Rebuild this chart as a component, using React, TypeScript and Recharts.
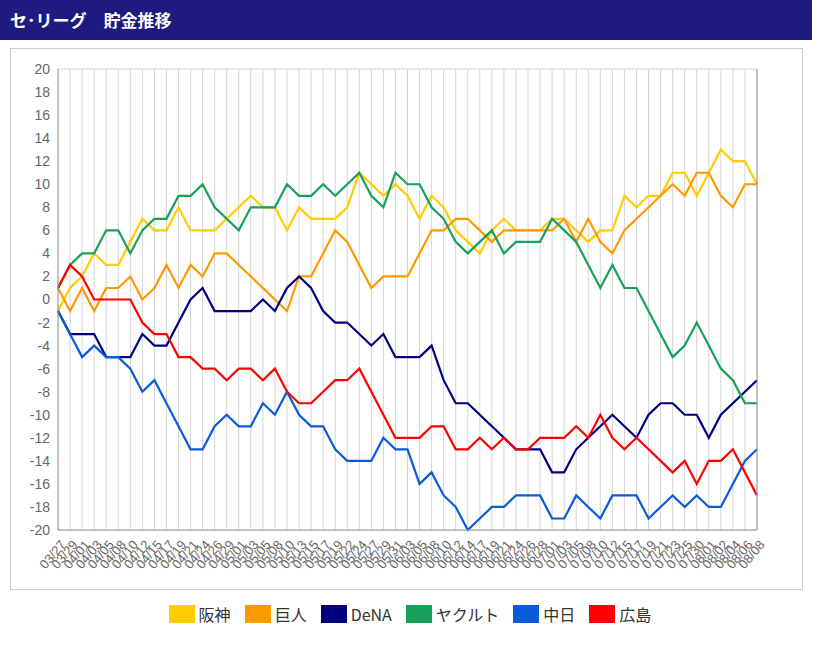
import React from "react";
import { LineChart, Line, XAxis, YAxis, CartesianGrid } from "recharts";

const dates = ["03/27","03/29","04/01","04/03","04/05","04/08","04/10","04/12","04/15","04/17","04/19","04/21","04/24","04/26","04/29","05/01","05/03","05/05","05/08","05/10","05/13","05/15","05/17","05/19","05/22","05/24","05/27","05/29","05/31","06/03","06/05","06/08","06/10","06/12","06/14","06/17","06/19","06/21","06/24","06/26","06/28","07/01","07/03","07/05","07/08","07/10","07/12","07/15","07/17","07/19","07/21","07/23","07/25","07/30","08/01","08/02","08/04","08/06","08/08"];
const hanshin = [-1,1,2,4,3,3,5,7,6,6,8,6,6,6,7,8,9,8,8,6,8,7,7,7,8,11,10,9,10,9,7,9,8,6,5,4,6,7,6,6,6,7,7,6,5,6,6,9,8,9,9,11,11,9,11,13,12,12,10];
const kyojin = [1,-1,1,-1,1,1,2,0,1,3,1,3,2,4,4,3,2,1,0,-1,2,2,4,6,5,3,1,2,2,2,4,6,6,7,7,6,5,6,6,6,6,6,7,5,7,5,4,6,7,8,9,10,9,11,11,9,8,10,10];
const dena = [-1,-3,-3,-3,-5,-5,-5,-3,-4,-4,-2,0,1,-1,-1,-1,-1,0,-1,1,2,1,-1,-2,-2,-3,-4,-3,-5,-5,-5,-4,-7,-9,-9,-10,-11,-12,-13,-13,-13,-15,-15,-13,-12,-11,-10,-11,-12,-10,-9,-9,-10,-10,-12,-10,-9,-8,-7];
const yakult = [1,3,4,4,6,6,4,6,7,7,9,9,10,8,7,6,8,8,8,10,9,9,10,9,10,11,9,8,11,10,10,8,7,5,4,5,6,4,5,5,5,7,6,5,3,1,3,1,1,-1,-3,-5,-4,-2,-4,-6,-7,-9,-9];
const chunichi = [-1,-3,-5,-4,-5,-5,-6,-8,-7,-9,-11,-13,-13,-11,-10,-11,-11,-9,-10,-8,-10,-11,-11,-13,-14,-14,-14,-12,-13,-13,-16,-15,-17,-18,-20,-19,-18,-18,-17,-17,-17,-19,-19,-17,-18,-19,-17,-17,-17,-19,-18,-17,-18,-17,-18,-18,-16,-14,-13];
const hiroshima = [1,3,2,0,0,0,0,-2,-3,-3,-5,-5,-6,-6,-7,-6,-6,-7,-6,-8,-9,-9,-8,-7,-7,-6,-8,-10,-12,-12,-12,-11,-11,-13,-13,-12,-13,-12,-13,-13,-12,-12,-12,-11,-12,-10,-12,-13,-12,-13,-14,-15,-14,-16,-14,-14,-13,-15,-17];
const yTicks = [-20,-18,-16,-14,-12,-10,-8,-6,-4,-2,0,2,4,6,8,10,12,14,16,18,20];

const series = [
  { key: "阪神", values: hanshin, color: "#FFCC00" },
  { key: "巨人", values: kyojin, color: "#FF9900" },
  { key: "DeNA", values: dena, color: "#000080" },
  { key: "ヤクルト", values: yakult, color: "#16A05A" },
  { key: "中日", values: chunichi, color: "#0A5ADC" },
  { key: "広島", values: hiroshima, color: "#FF0000" },
];

const data = dates.map((d, i) => {
  const row: any = { date: d };
  series.forEach((s) => (row[s.key] = s.values[i]));
  return row;
});

const axisFont = "'Liberation Sans', Arial, sans-serif";

const XTick = (props: any) => {
  const { x, y, payload } = props;
  const tx = x + 5, ty = y + 4;
  return (
    <text x={tx} y={ty} transform={`rotate(-50 ${tx} ${ty})`} textAnchor="end" fontSize={13} fill="#666" fontFamily={axisFont} dominantBaseline="central">
      {payload.value}
    </text>
  );
};

export default function App() {
  const font = "'Noto Sans CJK JP', 'Noto Sans', sans-serif";
  return (
    <div style={{ position: "fixed", left: 0, top: 0, width: 820, height: 646, background: "#fff", fontFamily: font }}>
      <div style={{ position: "absolute", left: 0, top: 0, width: 812, height: 40, background: "#1f1a80", color: "#fff", fontSize: 17, fontWeight: "bold", lineHeight: "40px", paddingLeft: 10, boxSizing: "border-box" }}>
        セ･リーグ　貯金推移
      </div>
      <div style={{ position: "absolute", left: 10, top: 48, width: 793, height: 542, border: "1px solid #ccc", boxSizing: "border-box" }} />
      <div style={{ position: "absolute", left: 10, top: 48 }}>
        <LineChart width={793} height={542} data={data} margin={{ top: 21, right: 3, left: 5, bottom: 0 }}>
          <CartesianGrid stroke="#d4d4d4" />
          <XAxis dataKey="date" interval={0} tick={<XTick />} height={60} stroke="#999" tickLine={false} />
          <YAxis yAxisId="l" domain={[-20, 20]} ticks={yTicks} width={43} tick={{ fontSize: 14, fill: "#666", fontFamily: axisFont }} stroke="#999" tickLine={false} interval={0} />
          <YAxis yAxisId="r" orientation="right" domain={[-20, 20]} ticks={yTicks} width={43} tick={{ fontSize: 14, fill: "#666", fontFamily: axisFont }} stroke="#999" tickLine={false} interval={0} />
          {series.map((s) => (
            <Line key={s.key} yAxisId="l" type="linear" dataKey={s.key} stroke={s.color} strokeWidth={2.2} dot={false} isAnimationActive={false} />
          ))}
        </LineChart>
      </div>
      <div style={{ position: "absolute", top: 602, left: 0, width: 820, display: "flex", justifyContent: "center", gap: 14, fontSize: 16, color: "#333" }}>
        {series.map((s) => (
          <div key={s.key} style={{ display: "flex", alignItems: "center", gap: 4 }}>
            <span style={{ display: "inline-block", width: 26, height: 18, background: s.color }} />
            <span>{s.key}</span>
          </div>
        ))}
      </div>
    </div>
  );
}
